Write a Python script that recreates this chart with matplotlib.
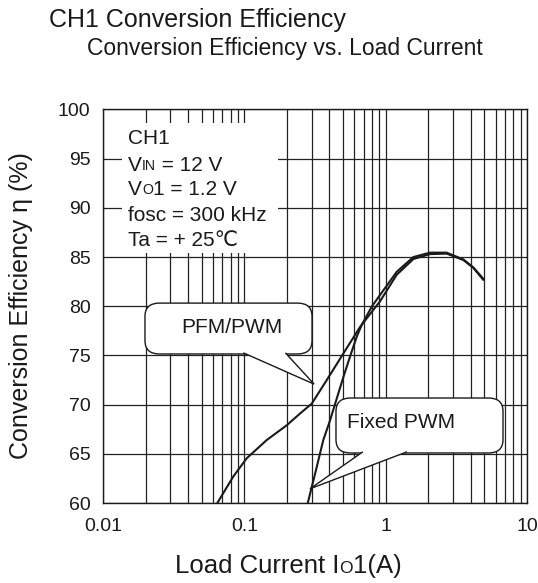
import numpy as np
import matplotlib
matplotlib.use("Agg")
import matplotlib.pyplot as plt
from matplotlib.patches import FancyBboxPatch, Polygon, Rectangle
from matplotlib.ticker import LogLocator, FixedLocator, NullFormatter

plt.rcParams['font.family'] = ['Liberation Sans', 'DejaVu Sans']

# values
pfm_x = [0.0644, 0.0836, 0.104, 0.144, 0.1995, 0.248, 0.300, 0.383, 0.502,
         0.659, 0.912, 1.197, 1.57, 2.06, 2.70, 3.55, 4.17, 4.9]
pfm_y = [60.0, 62.7, 64.55, 66.4, 67.9, 69.1, 70.1, 72.5, 75.2,
         77.9, 80.5, 83.2, 84.8, 85.3, 85.35, 84.7, 83.9, 82.7]

fixed_x = [0.281, 0.317, 0.362, 0.404, 0.502, 0.56, 0.624, 0.677, 0.80,
           1.197, 1.57, 2.06, 2.70, 3.55, 4.17, 4.9]
fixed_y = [60.0, 63.0, 66.4, 68.4, 72.8, 74.9, 76.9, 78.1, 80.0,
           83.5, 85.0, 85.45, 85.45, 84.75, 83.95, 82.8]

x_ticks = [0.01, 0.1, 1, 10]
x_labels = ["0.01", "0.1", "1", "10"]
y_ticks = [60, 65, 70, 75, 80, 85, 90, 95, 100]

title = "CH1 Conversion Efficiency"
subtitle = "Conversion Efficiency vs. Load Current"
ylabel = "Conversion Efficiency η (%)"

# conditions text, (piece, small caps?)
cond_lines = [
    [("CH1", False)],
    [("V", False), ("IN", True), (" = 12 V", False)],
    [("V", False), ("O", True), ("1 = 1.2 V", False)],
    [("fosc = 300 kHz", False)],
    [("Ta = + 25℃", False)],
]
xlabel_parts = [("Load Current I", False), ("O", True), ("1(A)", False)]

INK = "#1a1a1a"


def chain_text(ax, x, y, parts, size, transform, zorder=8):
    first = ax.text(x, y, parts[0][0], fontsize=size, transform=transform,
                    ha="left", va="baseline", color=INK, zorder=zorder)
    prev = first
    for txt, small in parts[1:]:
        fs = size * 0.68 if small else size
        dy = 0.21 * (size - fs)
        prev = ax.annotate(txt, xy=(1, 0), xycoords=(prev, first),
                           xytext=(0, dy), textcoords="offset points",
                           ha="left", va="bottom", fontsize=fs, color=INK,
                           zorder=zorder, annotation_clip=False)
    return first


def callout(ax, box, base, tip, label, text_xy, ha="center"):
    x0, y0, x1, y1 = box
    rb = FancyBboxPatch((x0, y0), x1 - x0, y1 - y0,
                        boxstyle="round,pad=0,rounding_size=0.034",
                        transform=ax.transAxes, fc="white", ec=INK, lw=1.0,
                        zorder=5)
    ax.add_patch(rb)
    eps = 0.003
    pt = Polygon([(base[0], y0 + eps), tip, (base[1], y0 + eps)], closed=False,
                 transform=ax.transAxes, fc="white", ec=INK, lw=1.0, zorder=6)
    ax.add_patch(pt)
    ax.text(text_xy[0], text_xy[1], label, transform=ax.transAxes, fontsize=15,
            ha=ha, va="center", color=INK, zorder=8)


fig = plt.figure(figsize=(5.38, 5.83), dpi=100)
ax = fig.add_axes([103 / 538, 80 / 583, 424 / 538, 393.5 / 583])

ax.plot(pfm_x, pfm_y, color=INK, lw=1.5, zorder=3)
ax.plot(fixed_x, fixed_y, color=INK, lw=1.5, zorder=3)

ax.set_xscale("log")
ax.set_xlim(0.01, 10)
ax.set_ylim(60, 100)
ax.xaxis.set_major_locator(FixedLocator(x_ticks))
ax.set_xticklabels(x_labels)
ax.xaxis.set_minor_locator(LogLocator(base=10, subs=np.arange(2, 10)))
ax.xaxis.set_minor_formatter(NullFormatter())
ax.set_yticks(y_ticks)
ax.tick_params(axis="both", which="both", length=0, labelsize=14, colors=INK)
ax.tick_params(axis="x", pad=11)
ax.tick_params(axis="y", pad=9)
ax.set_axisbelow(True)
ax.grid(True, which="both", axis="x", color="#222222", lw=0.9)
ax.grid(True, which="major", axis="y", color="#222222", lw=0.9)
for s in ax.spines.values():
    s.set_color(INK)
    s.set_linewidth(1.0)

# white box behind the conditions text
ax.add_patch(Rectangle((0.0448, 0.635), 0.368, 0.331, transform=ax.transAxes,
                       fc="white", ec="none", zorder=4))
cond_y = [0.912, 0.844, 0.783, 0.717, 0.653]
for parts, yy in zip(cond_lines, cond_y):
    chain_text(ax, 0.059, yy, parts, 15, ax.transAxes)

callout(ax, (0.099, 0.3787, 0.493, 0.508), (0.331, 0.43), (0.498, 0.302),
        "PFM/PWM", (0.303, 0.446))
callout(ax, (0.5495, 0.1271, 0.9434, 0.2668), (0.613, 0.717), (0.488, 0.036),
        "Fixed PWM", (0.5747, 0.2046), ha="left")

fig.text(49 / 538, (583 - 27) / 583, title, fontsize=18, ha="left",
         va="baseline", color=INK)
fig.text(87 / 538, (583 - 55) / 583, subtitle, fontsize=16.5, ha="left",
         va="baseline", color=INK)
fig.text(21 / 538, (583 - 306) / 583, ylabel, fontsize=18, rotation=90,
         ha="center", va="center", color=INK)
chain_text(ax, 175 / 538, (583 - 573) / 583, xlabel_parts, 18.5,
           fig.transFigure)

fig.savefig("out.png", dpi=100)
